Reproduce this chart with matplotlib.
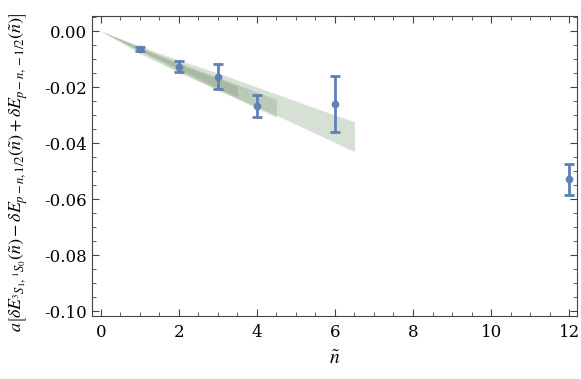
import numpy as np
import matplotlib
matplotlib.use('Agg')
import matplotlib.pyplot as plt
from matplotlib.ticker import MultipleLocator

# data points
n = [1, 2, 3, 4, 6, 12]
y = [-0.0064, -0.0127, -0.0163, -0.0267, -0.0261, -0.0529]
yerr = [0.0006, 0.0020, 0.0045, 0.0040, 0.0100, 0.0055]

# fit bands (edges)
xA = [0, 1, 2, 3, 4, 5, 6, 6.5]
upA = [0, -0.0053, -0.0104, -0.0150, -0.0200, -0.0250, -0.0300, -0.0324]
loA = [0, -0.0080, -0.0148, -0.0210, -0.0270, -0.0333, -0.0398, -0.0431]

xB = [0, 1, 2, 3, 4, 4.5]
upB = [0, -0.0058, -0.0113, -0.0165, -0.0218, -0.0244]
loB = [0, -0.0072, -0.0142, -0.0210, -0.0276, -0.0308]

xC = [0, 1, 2, 3, 3.5]
upC = [0, -0.0060, -0.0118, -0.0170, -0.0196]
loC = [0, -0.0068, -0.0135, -0.0202, -0.0235]

plt.rcParams['font.family'] = 'DejaVu Serif'
plt.rcParams['mathtext.fontset'] = 'stix'

fig = plt.figure(figsize=(5.81, 3.79), dpi=100)
ax = fig.add_axes([0.158, 0.166, 0.835, 0.792])

band_col = '#7d9a74'
for xs, up, lo in [(xA, upA, loA), (xB, upB, loB), (xC, upC, loC)]:
    ax.fill_between(xs, lo, up, color=band_col, alpha=0.3, lw=0)

blue = '#5e81b5'
ax.errorbar(n, y, yerr=yerr, fmt='o', color=blue, ms=4.5, elinewidth=2,
            capsize=3.5, capthick=2)

ax.set_xlim(-0.23, 12.2)
ax.set_ylim(-0.1018, 0.0054)
ax.xaxis.set_major_locator(MultipleLocator(2))
ax.xaxis.set_minor_locator(MultipleLocator(0.5))
ax.yaxis.set_major_locator(MultipleLocator(0.02))
ax.yaxis.set_minor_locator(MultipleLocator(0.005))
ax.yaxis.set_major_formatter(plt.FuncFormatter(lambda v, p: '%.2f' % v if abs(v) > 1e-9 else '0.00'))
ax.tick_params(which='both', direction='in', top=True, right=True,
               colors='#444444', labelcolor='black', labelsize=12)
ax.tick_params(which='major', length=5)
ax.tick_params(which='minor', length=3)
ax.tick_params(axis='x', pad=6)
for s in ax.spines.values():
    s.set_color('#444444')

ax.set_xlabel(r'$\tilde{n}$', fontsize=14, labelpad=6)
ax.set_ylabel(r'$a\left[\delta E_{{}^3S_1,{}^1S_0}(\tilde{n})-\delta E_{p-n,1/2}(\tilde{n})+\delta E_{p-n,-1/2}(\tilde{n})\right]$',
              fontsize=13)
ax.yaxis.set_label_coords(-0.128, 0.48)

fig.savefig('out.png', dpi=100)
